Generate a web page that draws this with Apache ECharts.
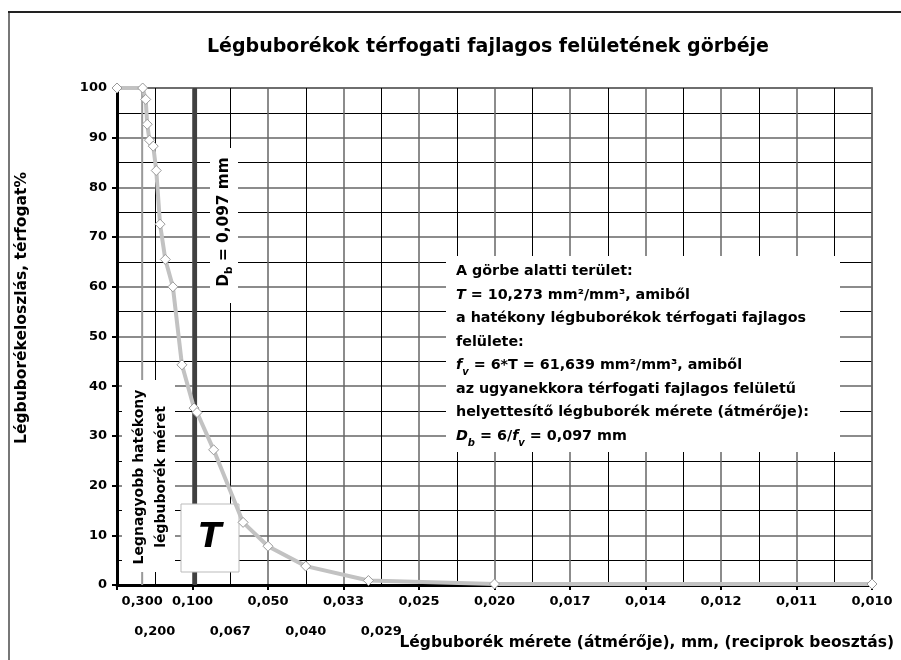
<!DOCTYPE html>
<html>
<head>
<meta charset="utf-8">
<script src="https://cdn.jsdelivr.net/npm/echarts@6/dist/echarts.min.js"></script>
<style>
html, body { margin: 0; padding: 0; background: #fff; }
#chart { width: 901px; height: 660px; }
</style>
</head>
<body>
<div id="chart"></div>
<script>
// x: reciprok buborékméret (1/mm), y: térfogat %
var recipSize = [0, 3.4, 3.8, 4.0, 4.3, 4.8, 5.2, 5.7, 6.4, 7.4, 8.6, 10.2, 10.6, 12.8, 16.7, 20, 25, 33.3, 50, 100];
var volumePct = [100, 100, 97.7, 92.7, 89.5, 88.3, 83.4, 72.6, 65.5, 60.0, 44.3, 35.6, 34.7, 27.2, 12.6, 7.8, 3.8, 0.9, 0.2, 0.2];

// tengelyfeliratok (két sorban)
var xTickPos1 = [1 / 0.3, 10, 20, 30, 40, 50, 60, 70, 80, 90, 100];
var xTickText1 = ['0,300', '0,100', '0,050', '0,033', '0,025', '0,020', '0,017', '0,014', '0,012', '0,011', '0,010'];
var xTickPos2 = [5, 15, 25, 35];
var xTickText2 = ['0,200', '0,067', '0,040', '0,029'];

var dbSize = 0.097;     // helyettesítő buborékméret
var maxEffSize = 0.3;   // legnagyobb hatékony méret

var FONT = '"DejaVu Sans", sans-serif';

function pick(pos, txt, v) {
    for (var i = 0; i < pos.length; i++) {
        if (Math.abs(pos[i] - v) < 1e-6) return txt[i];
    }
    return '';
}

var chart = echarts.init(document.getElementById('chart'));

var labelStyle = {
    margin: 10,
    color: '#000',
    fontFamily: FONT,
    fontWeight: 'bold',
    fontSize: 13
};

var option = {
    backgroundColor: '#fff',
    animation: false,
    grid: {
        left: 117, right: 29, top: 88, bottom: 75,
        show: true,
        borderColor: '#888',
        borderWidth: 2
    },
    xAxis: [{
        type: 'value',
        position: 'bottom',
        min: 0, max: 100, interval: 10,
        axisLine: { show: true, onZero: false, lineStyle: { color: '#000', width: 3 } },
        axisTick: { show: true, length: 5, lineStyle: { color: '#000', width: 2 } },
        axisLabel: { show: false },
        splitLine: { show: true, lineStyle: { color: '#666', width: 1.5 } },
        minorTick: { show: true, splitNumber: 2, length: 0 },
        minorSplitLine: { show: true, lineStyle: { color: '#000', width: 1 } }
    }, {
        type: 'value',
        position: 'bottom',
        min: 0, max: 100,
        axisLine: { show: false, onZero: false },
        axisTick: { show: false },
        splitLine: { show: false },
        axisLabel: Object.assign({}, labelStyle, {
            customValues: xTickPos1,
            formatter: function (v) { return pick(xTickPos1, xTickText1, v); }
        })
    }, {
        type: 'value',
        position: 'bottom',
        min: 0, max: 100,
        offset: 30,
        axisLine: { show: false, onZero: false },
        axisTick: { show: false },
        splitLine: { show: false },
        axisLabel: Object.assign({}, labelStyle, {
            customValues: xTickPos2,
            formatter: function (v) { return pick(xTickPos2, xTickText2, v); }
        })
    }],
    yAxis: {
        type: 'value',
        min: 0, max: 100, interval: 10,
        axisLine: { show: true, onZero: false, lineStyle: { color: '#000', width: 3 } },
        axisTick: { show: true, length: 5, lineStyle: { color: '#000', width: 2 } },
        axisLabel: { color: '#000', fontFamily: FONT, fontWeight: 'bold', fontSize: 13, margin: 10 },
        splitLine: { show: true, lineStyle: { color: '#666', width: 1.5 } },
        minorTick: { show: true, splitNumber: 2, length: 0 },
        minorSplitLine: { show: true, lineStyle: { color: '#000', width: 1 } }
    },
    series: [{
        name: 'legnagyobb',
        type: 'line',
        z: 1,
        silent: true,
        symbol: 'none',
        data: [[1 / maxEffSize, 0], [1 / maxEffSize, 100]],
        lineStyle: { color: '#999', width: 2 }
    }, {
        name: 'Db',
        type: 'line',
        z: 1,
        silent: true,
        symbol: 'none',
        data: [[1 / dbSize, 0], [1 / dbSize, 100]],
        lineStyle: { color: '#404040', width: 4.5 }
    }, {
        name: 'görbe',
        type: 'line',
        z: 5,
        data: recipSize.map(function (x, i) { return [x, volumePct[i]]; }),
        lineStyle: { color: '#c2c2c2', width: 4 },
        symbol: 'diamond',
        symbolSize: 10,
        itemStyle: { color: '#fff', borderColor: '#999', borderWidth: 1 }
    }],
    graphic: [
        // keret
        { type: 'polyline', z: 10, shape: { points: [[9, 660], [9, 12]] }, style: { stroke: '#777', lineWidth: 2, fill: null } },
        { type: 'polyline', z: 10, shape: { points: [[8, 12], [901, 12]] }, style: { stroke: '#222', lineWidth: 2, fill: null } },
        {
            type: 'text', z: 10, x: 488, y: 47,
            style: { text: 'Légbuborékok térfogati fajlagos felületének görbéje', font: 'bold 19px ' + FONT, fill: '#000', align: 'center', verticalAlign: 'middle' }
        },
        {
            type: 'text', z: 10, x: 22, y: 308, rotation: Math.PI / 2,
            style: { text: 'Légbuborékeloszlás, térfogat%', font: 'bold 15.5px ' + FONT, fill: '#000', align: 'center', verticalAlign: 'middle' }
        },
        {
            type: 'text', z: 10, x: 894, y: 643,
            style: { text: 'Légbuborék mérete (átmérője), mm, (reciprok beosztás)', font: 'bold 15.5px ' + FONT, fill: '#000', align: 'right', verticalAlign: 'middle' }
        },
        // magyarázó doboz
        { type: 'rect', z: 2, shape: { x: 446, y: 256, width: 394, height: 196 }, style: { fill: '#fff' } },
        {
            type: 'text', z: 3, x: 456, y: 260,
            style: {
                text: '{b|A görbe alatti terület:}\n' +
                      '{i|T}{b| = 10,273 mm²/mm³, amiből}\n' +
                      '{b|a hatékony légbuborékok térfogati fajlagos}\n' +
                      '{b|felülete:}\n' +
                      '{i|f}{s|v}{b| = 6*T = 61,639 mm²/mm³, amiből}\n' +
                      '{b|az ugyanekkora térfogati fajlagos felületű}\n' +
                      '{b|helyettesítő légbuborék mérete (átmérője):}\n' +
                      '{i|D}{s|b}{b| = 6/}{i|f}{s|v}{b| = 0,097 mm}',
                fill: '#000',
                align: 'left',
                verticalAlign: 'top',
                rich: {
                    b: { fontFamily: FONT, fontWeight: 'bold', fontSize: 14.3, lineHeight: 23.5 },
                    i: { fontFamily: FONT, fontWeight: 'bold', fontStyle: 'italic', fontSize: 14.3, lineHeight: 23.5 },
                    s: { fontFamily: FONT, fontWeight: 'bold', fontStyle: 'italic', fontSize: 10, lineHeight: 15, verticalAlign: 'bottom' }
                }
            }
        },
        // Db felirat
        { type: 'rect', z: 2, shape: { x: 210, y: 148, width: 28, height: 155 }, style: { fill: '#fff' } },
        {
            type: 'text', z: 3, x: 224, y: 222, rotation: Math.PI / 2,
            style: {
                text: '{n|D}{s|b}{n| = 0,097 mm}',
                align: 'center', verticalAlign: 'middle', fill: '#000',
                rich: {
                    n: { fontFamily: FONT, fontWeight: 'bold', fontSize: 15.3, lineHeight: 22 },
                    s: { fontFamily: FONT, fontWeight: 'bold', fontSize: 10.5, lineHeight: 15, verticalAlign: 'bottom' }
                }
            }
        },
        // legnagyobb hatékony méret felirat
        { type: 'rect', z: 2, shape: { x: 122, y: 380, width: 53, height: 192 }, style: { fill: '#fff' } },
        {
            type: 'text', z: 3, x: 150, y: 477, rotation: Math.PI / 2,
            style: {
                text: 'Legnagyobb hatékony\nlégbuborék méret',
                font: 'bold 14px ' + FONT, lineHeight: 22,
                align: 'center', verticalAlign: 'middle', fill: '#000'
            }
        },
        // T doboz
        { type: 'rect', z: 2, shape: { x: 181, y: 504, width: 58, height: 68 }, style: { fill: '#fff', stroke: '#bbb', lineWidth: 1 } },
        {
            type: 'text', z: 3, x: 210, y: 538,
            style: { text: 'T', font: 'italic bold 34px ' + FONT, fill: '#000', align: 'center', verticalAlign: 'middle' }
        }
    ]
};

chart.setOption(option);
window.addEventListener('resize', function () {
    chart.resize();
});
</script>
</body>
</html>
